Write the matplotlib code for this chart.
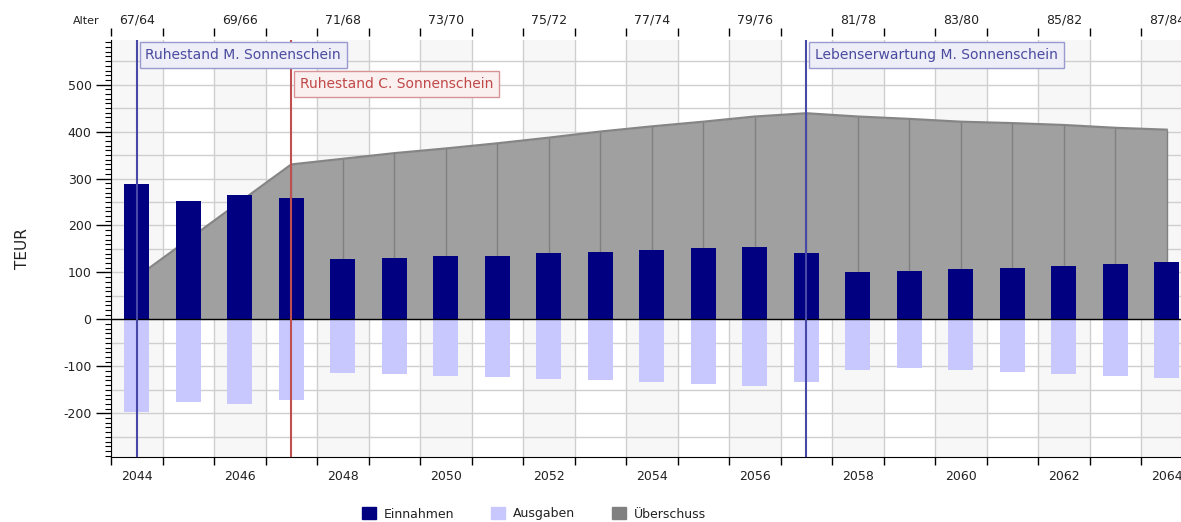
import matplotlib
matplotlib.use("Agg")
import matplotlib.pyplot as plt
from matplotlib.patches import Patch
from matplotlib.ticker import FixedLocator, MultipleLocator, NullFormatter
import numpy as np

plt.rcParams['font.family'] = ['DejaVu Sans']
plt.rcParams['axes.unicode_minus'] = False

years = list(range(2044, 2065))
einnahmen = [288, 252, 265, 258, 129, 131, 134, 136, 141, 143, 147, 151, 154,
             141, 101, 104, 108, 110, 114, 118, 123]
ausgaben = [-198, -176, -181, -172, -114, -116, -120, -122, -127, -129, -133, -137, -142,
            -133, -107, -104, -107, -111, -116, -120, -125]
ueberschuss = [90, 170, 250, 330, 342, 354, 364, 375, 387, 400, 411, 421, 432,
               439, 432, 427, 421, 418, 414, 408, 404]
label_years = list(range(2044, 2065, 2))
alter_labels = ['67/64', '69/66', '71/68', '73/70', '75/72', '77/74', '79/76',
                '81/78', '83/80', '85/82', '87/84']
events = [
    (2044, 'Ruhestand M. Sonnenschein', 'blue'),
    (2047, 'Ruhestand C. Sonnenschein', 'red'),
    (2057, 'Lebenserwartung M. Sonnenschein', 'blue'),
]
legend_labels = ['Einnahmen', 'Ausgaben', 'Überschuss']

c_ein = '#000080'
c_aus = '#c8c8ff'
c_ue = '#a0a0a0'
c_ue_edge = '#858585'
grid_c = '#cfcfcf'
txt_c = '#222222'

W, H = 1181, 522
fig = plt.figure(figsize=(W / 100, H / 100), dpi=100)
ax = fig.add_axes([111 / W, 1 - 457 / H, (W - 111) / W, (457 - 40) / H])

x0, x1 = 2043.5, 2043.5 + (W - 111) / 51.5
ax.set_xlim(x0, x1)
ax.set_ylim(-293, 595)

# alternating background bands
for i, yv in enumerate(years):
    if i % 2 == 0:
        ax.axvspan(yv - 0.5, yv + 0.5, color='#f7f7f7', zorder=0, lw=0)

# grid
for gy in range(-250, 600, 50):
    ax.axhline(gy, color=grid_c, lw=1, zorder=1)
for b in np.arange(years[0] - 0.5, years[-1] + 1.5, 1):
    ax.axvline(b, color=grid_c, lw=1, zorder=1)

# surplus area
ax.fill_between(years, 0, ueberschuss, color=c_ue, lw=0, zorder=2)
ax.plot(years, ueberschuss, color=c_ue_edge, lw=1.6, zorder=2.1)
ax.vlines(years, 0, ueberschuss, color='#808080', lw=1, zorder=2.1)

# bars
bw = 0.48
ax.bar(years, einnahmen, width=bw, color=c_ein, zorder=3)
ax.bar(years, ausgaben, width=bw, color=c_aus, zorder=3)
ax.axhline(0, color='black', lw=1, zorder=4)

# events
styles = {
    'blue': dict(line='#4848a8', text='#4a4aa0', face='#eeeef8', edge='#9a9ad0'),
    'red': dict(line='#c05050', text='#c04848', face='#fbf0f0', edge='#d89494'),
}
ypos = {2044: 563, 2047: 501, 2057: 563}
for yr, lab, st in events:
    s = styles[st]
    ax.axvline(yr, color=s['line'], lw=1.5, zorder=5)
    ax.annotate(lab, xy=(yr, ypos[yr]), xytext=(6.2, 0), textcoords='offset points',
                ha='left', va='center', fontsize=10, color=s['text'], zorder=6,
                bbox=dict(boxstyle='square,pad=0.42', fc=s['face'], ec=s['edge'], lw=1))

# axes styling
for sp in ['top', 'right']:
    ax.spines[sp].set_visible(False)
ax.spines['left'].set_color('black')
ax.spines['bottom'].set_color('black')

ax.xaxis.set_major_locator(FixedLocator(np.arange(years[0] - 0.5, years[-1] + 1.5, 1)))
ax.xaxis.set_major_formatter(NullFormatter())
ax.xaxis.set_minor_locator(FixedLocator(label_years))
ax.set_xticklabels([str(y) for y in label_years], minor=True)
ax.tick_params(axis='x', which='major', direction='out', length=6, width=1, color='black')
ax.tick_params(axis='x', which='minor', length=0, pad=9, labelsize=9, labelcolor=txt_c)

ax.yaxis.set_major_locator(FixedLocator(list(range(-200, 600, 100))))
ax.yaxis.set_minor_locator(MultipleLocator(10))
ax.tick_params(axis='y', which='major', direction='out', length=11, width=1, pad=3,
               labelsize=9, labelcolor=txt_c)
ax.tick_params(axis='y', which='minor', direction='out', length=4, width=0.8)
ax.set_ylabel('TEUR', fontsize=11, color=txt_c)
ax.yaxis.set_label_coords((30 - 111) / (W - 111), 0.5)

# top axis (ages)
ax2 = ax.twiny()
ax2.set_xlim(ax.get_xlim())
for sp in ['top', 'right', 'left', 'bottom']:
    ax2.spines[sp].set_visible(False)
ax2.spines['top'].set_position(('outward', 3))
ax2.xaxis.set_major_locator(FixedLocator(np.arange(years[0] - 0.5, years[-1] + 1.5, 1)))
ax2.xaxis.set_major_formatter(NullFormatter())
ax2.xaxis.set_minor_locator(FixedLocator(label_years))
ax2.set_xticklabels(alter_labels, minor=True)
ax2.tick_params(axis='x', which='major', direction='out', length=6, width=1, color='black')
ax2.tick_params(axis='x', which='minor', length=0, pad=6.5, labelsize=9, labelcolor=txt_c)
fig.text(86 / W, 1 - 21 / H, 'Alter', fontsize=8, ha='center', va='center', color=txt_c)

handles = [Patch(color=c_ein), Patch(color=c_aus), Patch(color='#808080')]
fig.legend(handles, legend_labels, loc='upper center', bbox_to_anchor=(0.452, 1 - 496 / H),
           ncol=3, frameon=False, fontsize=9, handlelength=1.1, handleheight=1.1,
           handletextpad=0.6, columnspacing=3.0, labelcolor=txt_c)

fig.savefig('out.png', dpi=100)
